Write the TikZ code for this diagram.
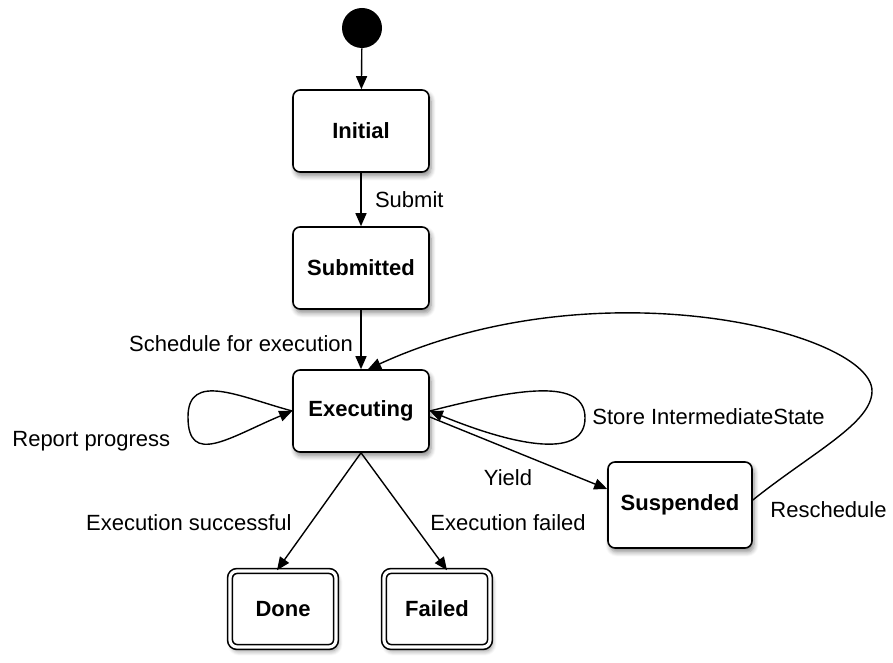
\documentclass[tikz,border=0pt]{standalone}
\usepackage{fontspec}
\setmainfont{Liberation Sans}
\usetikzlibrary{arrows.meta,shadows.blur}

\tikzset{
    state/.style={rectangle, draw, rounded corners=3.5pt, line width=0.8pt, fill=white,
        minimum width=68pt, minimum height=41pt, font=\bfseries,
        blur shadow={shadow xshift=1pt, shadow yshift=-2pt, shadow blur steps=6, shadow opacity=45}},
    final/.style={state, double, double distance=1.6pt, minimum width=53pt, minimum height=38pt},
    trans/.style={-{Triangle[width=5.5pt,length=6.5pt]}, line width=0.7pt},
    lbl/.style={inner sep=0pt}
}

\begin{document}
\fontsize{11}{13}\selectfont
\begin{tikzpicture}[x=0.5pt, y=0.5pt]

    \useasboundingbox (0,0) rectangle (893,663);

    % Start point
    \node[circle, fill, minimum size=20pt, inner sep=0pt] (start) at (362,635) {};

    % States
    \node[state] (init) at (361,532) {Initial};
    \node[state] (sub) at (361,395) {Submitted};
    \node[state] (exec) at (361,252) {Executing};
    \node[state, minimum width=72pt, minimum height=43pt] (susp) at (680,158) {Suspended};

    % Final states
    \node[final] (done) at (283,54) {Done};
    \node[final] (fail) at (437,54) {Failed};

    % Main transitions
    \draw[trans] (start) -- (init);
    \draw[trans] (init) -- node[right, xshift=3pt] {Submit} (sub);
    \draw[trans] (sub) -- node[left, yshift=-2pt] {Schedule for execution} (exec);
    \draw[trans] (exec.south) -- ([xshift=-3pt]done.north);
    \draw[trans] (exec.south) -- ([xshift=5pt]fail.north);
    \draw[trans] ([yshift=-3pt]exec.east) -- ([yshift=8pt]susp.west);

    % Self loops
    \draw[trans] (exec.west) .. controls (240,266) and (188,292) .. (188,246)
        .. controls (188,196) and (230,226) .. (exec.west);
    \draw[trans] (exec.east) .. controls (520,275) and (585,285) .. (585,245)
        .. controls (585,205) and (520,215) .. (exec.east);

    % Back to executing
    \draw[trans] ([yshift=2.5pt]susp.east) .. controls (813,211) and (872,240) .. (872,272)
        .. controls (872,330) and (600,400) .. ([xshift=3.5pt]exec.north);

    % Transition labels
    \node[lbl, anchor=west] (lreport) at (12,222) {Report progress};
    \node[lbl, anchor=west] (lstore) at (592,246) {Store IntermediateState};
    \node[lbl] (lyield) at (508,185) {Yield};
    \node[lbl, anchor=west] (lresched) at (770,153) {Reschedule};
    \node[lbl, anchor=east] (lsucc) at (292,140) {Execution successful};
    \node[lbl, anchor=west] (lfail) at (430,140) {Execution failed};

\end{tikzpicture}
\end{document}
